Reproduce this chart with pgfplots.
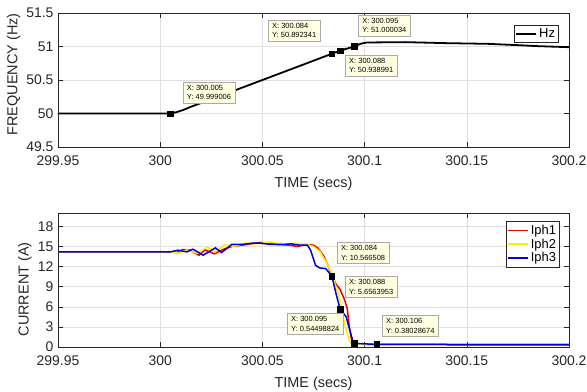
\documentclass[border=0pt]{standalone}
\usepackage{fontspec}
\setmainfont{Liberation Sans}
\usepackage{pgfplots}
\pgfplotsset{compat=1.18}
\definecolor{tipfill}{RGB}{255,255,225}
\definecolor{tipdraw}{RGB}{170,170,170}
\definecolor{axgray}{RGB}{38,38,38}
\definecolor{gridgray}{RGB}{223,223,223}
\definecolor{mred}{RGB}{228,0,0}
\definecolor{myellow}{RGB}{255,238,0}
\definecolor{mblue}{RGB}{0,0,220}
\tikzset{
  tip/.style={fill=tipfill, draw=tipdraw, line width=0.5bp, anchor=north west, align=left,
    font=\fontsize{7.5}{9.5}\selectfont, inner xsep=4bp, inner ysep=3bp, text=black},
}
\pgfplotsset{
  common/.style={
    scale only axis, width=511bp, height=134bp,
    xmin=299.95, xmax=300.2,
    xtick={299.95,300,300.05,300.1,300.15,300.2},
    xticklabels={299.95,300,300.05,300.1,300.15,300.2},
    grid=major, major grid style={gridgray, line width=0.5bp},
    axis line style={axgray, line width=0.6bp},
    tick style={axgray, line width=0.6bp}, major tick length=5bp,
    tick align=inside,
    ticklabel style={font=\fontsize{14}{16}\selectfont, text=axgray},
    xticklabel style={yshift=-5bp},
    yticklabel style={xshift=-1bp},
    xlabel={TIME (secs)},
    every axis x label/.style={at={(axis description cs:0.5,-0.272)}, anchor=center,
      font=\fontsize{14.5}{17}\selectfont, text=axgray},
    /pgf/number format/assume math mode=true,
    legend style={font=\fontsize{13}{15}\selectfont, draw=axgray, line width=0.6bp, inner sep=1.5bp, row sep=-1bp, text=black},
    legend cell align=left,
    legend image code/.code={\draw[#1] (0bp,0bp) -- (20bp,0bp);},
    scaled x ticks=false, scaled y ticks=false,
  },
}
\begin{document}
\begin{tikzpicture}
\path[use as bounding box] (-58bp,13bp) rectangle (529bp,-379bp);
\begin{axis}[common, at={(0,0)}, anchor=north west,
  ymin=49.5, ymax=51.5,
  ytick={49.5,50,50.5,51,51.5}, yticklabels={49.5,50,50.5,51,51.5},
  ylabel={FREQUENCY (Hz)},
  every axis y label/.style={at={(axis description cs:-0.087,0.541)}, rotate=90, anchor=center,
    font=\fontsize{14.5}{17}\selectfont, text=axgray},
  legend style={at={(0.980,0.910)}, anchor=north east},
]
\addplot[black, line width=1.8bp] coordinates {
(299.95,50.0) (300.005,50.0) (300.008,50.02) (300.011,50.05) (300.015,50.10)
(300.03,50.27) (300.05,50.50) (300.07,50.73) (300.084,50.892341) (300.088,50.938991)
(300.095,51.000034) (300.098,51.04) (300.101,51.06) (300.12,51.065) (300.14,51.05)
(300.16,51.04) (300.175,51.02) (300.185,51.005) (300.2,50.99)};
\addlegendentry{Hz}
\addplot[only marks, mark=square*, mark size=2.8bp, black, forget plot] coordinates {
(300.005,49.999006) (300.084,50.892341) (300.088,50.938991) (300.095,51.000034)};
\node[tip] at (axis cs:300.011,50.47) {X: 300.005\\Y: 49.999006};
\node[tip] at (axis cs:300.0527,51.395) {X: 300.084\\Y: 50.892341};
\node[tip] at (axis cs:300.0968,51.47) {X: 300.095\\Y: 51.000034};
\node[tip] at (axis cs:300.0904,50.873) {X: 300.088\\Y: 50.938991};
\end{axis}
\begin{axis}[common, at={(0,-200bp)}, anchor=north west,
  ymin=0, ymax=20,
  ytick={0,3,6,9,12,15,18}, yticklabels={0,3,6,9,12,15,18},
  ylabel={CURRENT (A)},
  every axis y label/.style={at={(axis description cs:-0.0646,0.43)}, rotate=90, anchor=center,
    font=\fontsize{14.5}{17}\selectfont, text=axgray},
  legend style={at={(0.982,0.940)}, anchor=north east},
]
\addplot[mred, line width=1.5bp] coordinates {
(299.95,14.2) (300.005,14.2) (300.008,14.1) (300.011,14.55) (300.014,14.5) (300.019,13.7)
(300.022,14.5) (300.0265,13.9) (300.031,14.6) (300.035,15.0) (300.0425,15.3) (300.049,15.6)
(300.057,15.3) (300.0635,15.2) (300.067,15.0) (300.071,15.3) (300.075,15.2) (300.077,14.8)
(300.080,13.6) (300.082,12.2) (300.084,10.6) (300.086,9.4) (300.088,8.6) (300.090,7.2)
(300.0915,5.8) (300.0925,3.0) (300.094,0.5) (300.1,0.4) (300.2,0.4)};
\addlegendentry{Iph1}
\addplot[myellow, line width=1.5bp] coordinates {
(299.95,14.2) (300.005,14.2) (300.009,14.0) (300.013,14.5) (300.018,14.0) (300.023,14.9)
(300.027,14.2) (300.032,15.3) (300.036,15.0) (300.041,15.5) (300.048,15.4) (300.054,15.7)
(300.06,15.3) (300.066,15.5) (300.072,15.3) (300.075,15.0) (300.078,14.3) (300.081,12.8)
(300.084,10.9) (300.086,9.0) (300.088,6.9) (300.0895,4.5) (300.091,2.5) (300.093,0.6)
(300.1,0.3) (300.2,0.3)};
\addlegendentry{Iph2}
\addplot[mblue, line width=1.5bp] coordinates {
(299.95,14.2) (300.005,14.2) (300.0087,14.45) (300.013,14.2) (300.016,14.6) (300.021,13.7)
(300.027,14.8) (300.030,14.1) (300.035,15.3) (300.040,15.3) (300.045,15.5) (300.049,15.5)
(300.054,15.3) (300.060,15.3) (300.064,15.4) (300.068,15.2) (300.072,15.2) (300.0735,14.5)
(300.076,12.2) (300.078,11.8) (300.081,11.7) (300.084,10.566508) (300.086,8.0)
(300.088,5.6563953) (300.091,4.5) (300.0925,2.8) (300.0945,0.6) (300.095,0.54498824)
(300.106,0.38028674) (300.14,0.38) (300.141,0.3) (300.2,0.3)};
\addlegendentry{Iph3}
\addplot[only marks, mark=square*, mark size=2.8bp, black, forget plot] coordinates {
(300.084,10.566508) (300.088,5.6563953) (300.095,0.54498824) (300.106,0.38028674)};
\node[tip] at (axis cs:300.0864,15.63) {X: 300.084\\Y: 10.566508};
\node[tip] at (axis cs:300.0904,10.55) {X: 300.088\\Y: 5.6563953};
\node[tip] at (axis cs:300.062,5.03) {X: 300.095\\Y: 0.54498824};
\node[tip] at (axis cs:300.1085,4.73) {X: 300.106\\Y: 0.38028674};
\end{axis}
\end{tikzpicture}
\end{document}
